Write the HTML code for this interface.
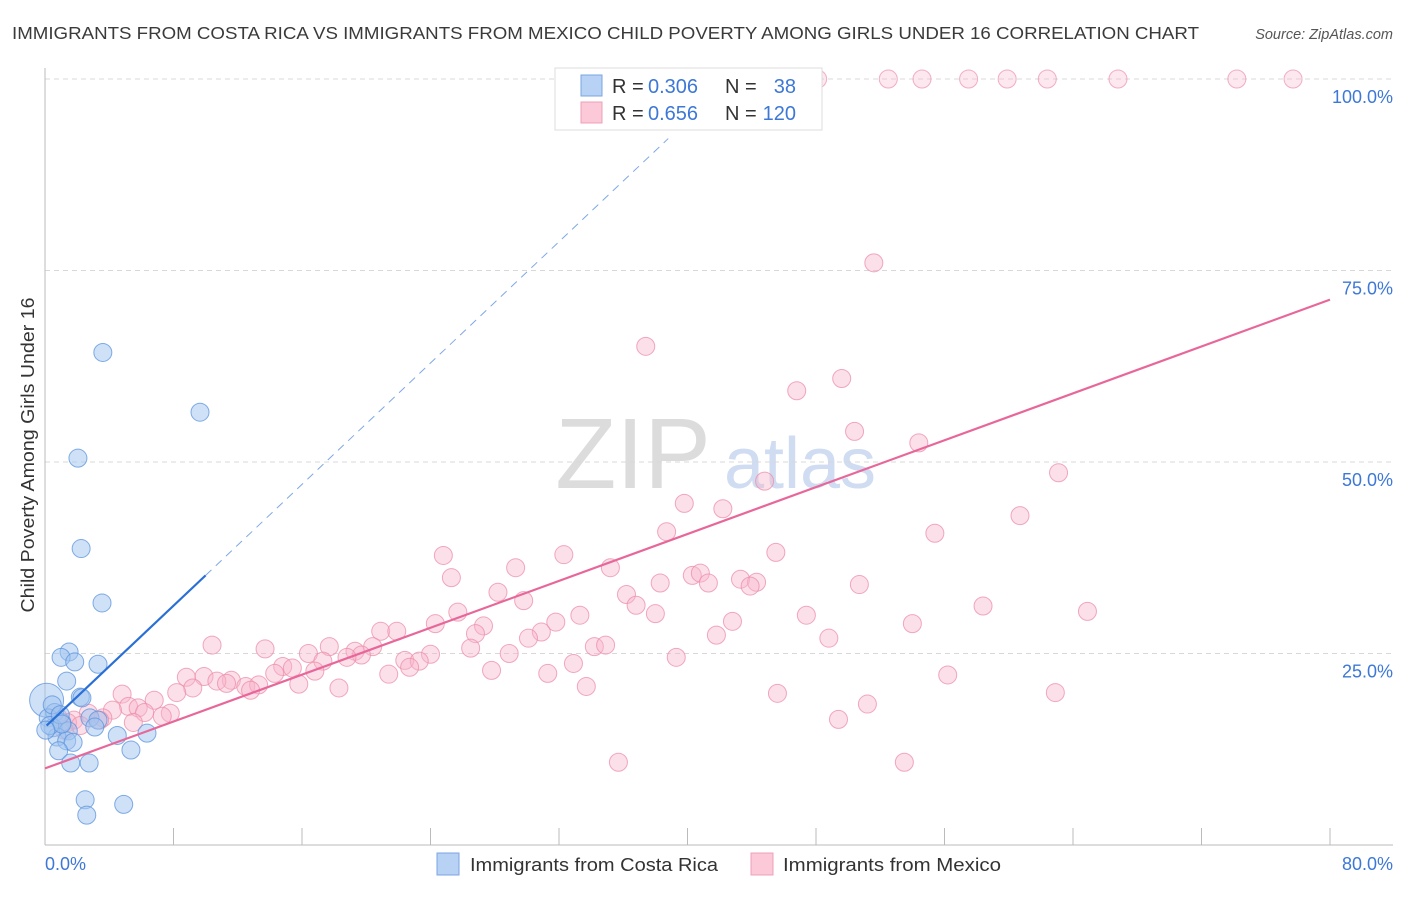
<!DOCTYPE html>
<html><head><meta charset="utf-8"><style>
body{margin:0;background:#fff;font-family:"Liberation Sans",sans-serif;}
svg text{font-family:"Liberation Sans",sans-serif;}
</style></head><body>
<svg id="chart" width="1406" height="892" viewBox="0 0 1406 892" xmlns="http://www.w3.org/2000/svg">
<text x="12" y="39" font-size="17.5" fill="#3a3a3a" textLength="1187" lengthAdjust="spacingAndGlyphs">IMMIGRANTS FROM COSTA RICA VS IMMIGRANTS FROM MEXICO CHILD POVERTY AMONG GIRLS UNDER 16 CORRELATION CHART</text>
<text x="1393" y="39" font-size="14.5" font-style="italic" fill="#555" text-anchor="end">Source: ZipAtlas.com</text>
<text x="633" y="488" font-size="100" fill="#dcdcdc" font-family="Liberation Serif" text-anchor="middle">ZIP</text>
<text x="800" y="488" font-size="72" fill="#cfdcf2" text-anchor="middle">atlas</text>
<g id="grid"></g>
<g id="axes"></g>
<g id="marks"></g>
<g id="lines"></g>
<text transform="translate(34,455) rotate(-90)" font-size="18" fill="#333" text-anchor="middle" textLength="315" lengthAdjust="spacingAndGlyphs">Child Poverty Among Girls Under 16</text>
<g>
<rect x="555" y="68" width="267" height="62" fill="#fff" stroke="#ddd"/>
<rect x="581" y="75" width="21" height="21" fill="#b7d2f5" stroke="#7aa6e0"/>
<rect x="581" y="102" width="21" height="21" fill="#fbc9d8" stroke="#eea0b8"/>
<text x="612" y="93" font-size="20" fill="#333">R =</text>
<text x="648" y="93" font-size="20" fill="#3d78d6">0.306</text>
<text x="725" y="93" font-size="20" fill="#333">N =</text>
<text x="796" y="93" font-size="20" fill="#3d78d6" text-anchor="end">38</text>
<text x="612" y="120" font-size="20" fill="#333">R =</text>
<text x="648" y="120" font-size="20" fill="#3d78d6">0.656</text>
<text x="725" y="120" font-size="20" fill="#333">N =</text>
<text x="796" y="120" font-size="20" fill="#3d78d6" text-anchor="end">120</text>
</g>
<g>
<rect x="437" y="853" width="22" height="22" fill="#b7d2f5" stroke="#7aa6e0"/>
<text x="470" y="871" font-size="18" fill="#333" textLength="248" lengthAdjust="spacingAndGlyphs">Immigrants from Costa Rica</text>
<rect x="751" y="853" width="22" height="22" fill="#fbc9d8" stroke="#eea0b8"/>
<text x="783" y="871" font-size="18" fill="#333" textLength="218" lengthAdjust="spacingAndGlyphs">Immigrants from Mexico</text>
</g>
</svg>
<script>
const yTicks=[25,50,75,100];
const yTickLabels=["25.0%","50.0%","75.0%","100.0%"];
const xTicks=[0,8,16,24,32,40,48,56,64,72,80];
const xEndLabels=["0.0%","80.0%"];
const blueX=[3.6,9.65,2.05,2.25,3.55,1.5,1.0,1.85,3.3,1.35,2.2,0.1,0.6,0.2,2.8,3.3,1.05,3.1,0.5,1.45,0.75,4.5,6.35,1.35,1.75,0.85,5.35,1.6,2.75,2.5,4.9,2.6,0.3,0.45,0.95,2.3,1.05,0.05];
const blueY=[64.3,56.5,50.5,38.7,31.6,25.2,24.5,23.9,23.6,21.4,19.3,18.9,17.3,16.6,16.6,16.3,16.0,15.4,15.3,14.9,14.1,14.3,14.6,13.6,13.4,12.3,12.4,10.7,10.7,5.9,5.3,3.9,15.6,18.3,17.0,19.2,15.8,15.0];
const pinkX=[48.1,52.5,54.6,57.5,59.9,62.4,66.8,74.2,77.7,51.6,37.4,49.6,46.8,50.4,54.4,63.1,44.8,39.8,42.2,60.7,38.7,55.4,24.8,32.3,45.5,29.3,35.2,25.3,40.3,40.8,41.3,43.3,44.3,43.9,38.3,50.7,28.2,36.2,29.8,36.8,58.4,64.9,25.7,38.0,33.3,47.4,31.8,24.3,42.8,27.3,30.9,26.8,20.9,21.9,30.1,41.8,48.8,54.0,10.4,13.7,17.7,20.4,26.5,34.2,34.9,19.3,16.4,19.7,24.0,28.9,39.3,17.3,18.8,22.4,23.3,32.9,14.8,15.4,16.8,22.7,27.8,14.3,21.4,31.3,8.8,9.9,11.6,10.7,11.3,12.5,13.3,15.8,56.2,9.2,12.8,18.3,33.7,4.8,8.2,45.6,62.9,6.8,5.2,5.8,51.2,4.2,6.2,7.8,7.3,2.7,3.6,1.8,3.4,1.4,0.8,5.5,49.4,2.2,1.2,35.7,53.5];
const pinkY=[100,100,100,100,100,100,100,100,100,76.0,65.1,60.9,59.3,54.0,52.5,48.6,47.5,44.6,43.9,43.0,40.9,40.7,37.8,37.9,38.2,36.2,36.2,34.9,35.2,35.5,34.2,34.7,34.3,33.8,34.2,34.0,33.0,32.7,31.9,31.3,31.2,30.5,30.4,30.2,30.0,30.0,29.1,28.9,29.2,28.6,27.8,27.6,27.9,27.9,27.0,27.4,27.0,28.9,26.1,25.6,25.9,25.9,25.7,25.9,26.1,25.3,25.0,24.8,24.9,25.0,24.5,24.0,24.5,24.1,24.0,23.7,23.3,23.1,22.7,23.2,22.8,22.4,22.3,22.4,21.9,22.0,21.5,21.4,21.1,20.7,20.9,21.0,22.2,20.5,20.2,20.5,20.7,19.7,19.9,19.8,19.9,18.9,18.1,17.9,18.4,17.6,17.3,17.2,16.8,17.2,16.6,16.3,16.3,16.0,16.7,16.0,16.4,15.6,15.0,10.8,10.8];
const blueTrend=[15.4,1.98];
const blueSolidEnd=10;
const blueDashEnd=38.8;
const pinkTrend=[10.0,0.765];
const pinkEnd=80;

const NS="http://www.w3.org/2000/svg";
const X0=45,X1=1330,Y0=845,Y100=79;
function sx(v){return X0+(X1-X0)*v/80;}
function sy(v){return Y0-(Y0-Y100)*v/100;}
function mk(tag,attrs,parent){const e=document.createElementNS(NS,tag);for(const k in attrs)e.setAttribute(k,attrs[k]);document.getElementById(parent).appendChild(e);return e;}

yTicks.forEach((t,i)=>{
  const g=mk('line',{x1:X0,x2:1393,y1:sy(t),y2:sy(t),stroke:'#d8d8d8','stroke-dasharray':'5,4'},'grid');
  
  
  const l=mk('text',{x:1393,y:sy(t)+24,'font-size':18,fill:'#3d78d6','text-anchor':'end'},'grid');
  l.textContent=yTickLabels[i];
  
  
});
let ax=mk('line',{x1:X0,x2:X0,y1:68,y2:Y0,stroke:'#bbb'},'axes');


let bx=mk('line',{x1:X0,x2:1393,y1:Y0,y2:Y0,stroke:'#bbb'},'axes');


xTicks.forEach(t=>{
  const k=mk('line',{x1:sx(t),x2:sx(t),y1:828,y2:Y0,stroke:'#bbb'},'axes');
  
  
});
let xl0=mk('text',{x:X0,y:870,'font-size':18,fill:'#3d78d6'},'axes');xl0.textContent=xEndLabels[0];


let xl1=mk('text',{x:1393,y:870,'font-size':18,fill:'#3d78d6','text-anchor':'end'},'axes');xl1.textContent=xEndLabels[1];



pinkX.forEach((x,i)=>{
  const top=pinkY[i]>=100;
  const c=mk('circle',{cx:sx(x),cy:sy(pinkY[i]),r:9,fill:top?'rgba(248,190,208,0.35)':'rgba(248,182,202,0.42)',stroke:top?'rgba(236,150,176,0.75)':'rgba(236,140,170,0.75)','stroke-width':1},'marks');
  
  
});
blueX.forEach((x,i)=>{
  const big=(i===11);
  const c=mk('circle',{cx:sx(x),cy:sy(blueY[i]),r:big?17:9,fill:'rgba(160,196,240,0.5)',stroke:'rgba(90,145,220,0.75)','stroke-width':1},'marks');
  
  
});
const bs=mk('line',{x1:sx(0.1),y1:sy(blueTrend[0]+blueTrend[1]*0.1),x2:sx(blueSolidEnd),y2:sy(blueTrend[0]+blueTrend[1]*blueSolidEnd),stroke:'#2a6fd6','stroke-width':2.2},'lines');


const bd=mk('line',{x1:sx(blueSolidEnd),y1:sy(blueTrend[0]+blueTrend[1]*blueSolidEnd),x2:sx(blueDashEnd),y2:sy(blueTrend[0]+blueTrend[1]*blueDashEnd),stroke:'#7ea8e6','stroke-width':1,'stroke-dasharray':'8,6'},'lines');


const pl=mk('line',{x1:sx(0),y1:sy(pinkTrend[0]),x2:sx(pinkEnd),y2:sy(pinkTrend[0]+pinkTrend[1]*pinkEnd),stroke:'#e8679a','stroke-width':2.2},'lines');


</script>
</body></html>
